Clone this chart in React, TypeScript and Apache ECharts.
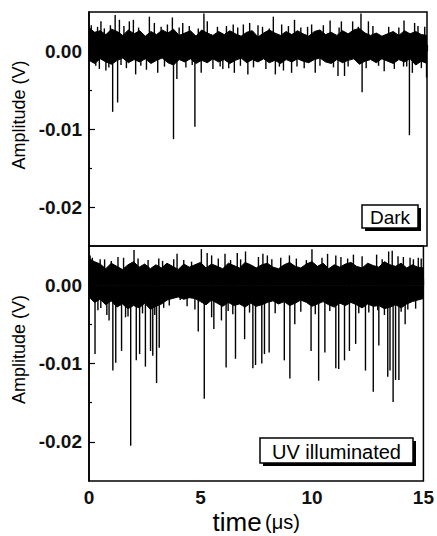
import React, { useEffect, useRef } from "react";
import * as echarts from "echarts";

const darkUpper = [
  0.0030, 0.0024, 0.0026, 0.0021, 0.0028, 0.0025, 0.0020, 0.0027, 0.0022, 0.0026,
  0.0019, 0.0025, 0.0021, 0.0027, 0.0023, 0.0028, 0.0020, 0.0023, 0.0026, 0.0019,
  0.0027, 0.0023, 0.0020, 0.0025, 0.0021, 0.0026, 0.0022, 0.0019, 0.0024, 0.0026,
  0.0018, 0.0023, 0.0027, 0.0023, 0.0020, 0.0025, 0.0021, 0.0026, 0.0022, 0.0019,
  0.0025, 0.0027, 0.0021, 0.0024, 0.0020, 0.0026, 0.0022, 0.0027, 0.0029, 0.0023,
  0.0020, 0.0023, 0.0019, 0.0022, 0.0025, 0.0020, 0.0026, 0.0022, 0.0025, 0.0021,
  0.0020,
];
const darkLower = [
  -0.0012, -0.0016, -0.0010, -0.0014, -0.0017, -0.0012, -0.0009, -0.0015, -0.0011, -0.0014,
  -0.0010, -0.0016, -0.0012, -0.0009, -0.0015, -0.0018, -0.0011, -0.0014, -0.0010, -0.0016,
  -0.0012, -0.0015, -0.0010, -0.0014, -0.0011, -0.0016, -0.0012, -0.0009, -0.0015, -0.0011,
  -0.0014, -0.0010, -0.0015, -0.0012, -0.0016, -0.0011, -0.0014, -0.0010, -0.0013, -0.0015,
  -0.0011, -0.0009, -0.0014, -0.0016, -0.0011, -0.0015, -0.0012, -0.0010, -0.0017, -0.0013,
  -0.0011, -0.0015, -0.0010, -0.0013, -0.0016, -0.0011, -0.0014, -0.0010, -0.0018, -0.0013,
  -0.0016,
];
const uvUpper = [
  0.0034, 0.0030, 0.0027, 0.0021, 0.0028, 0.0024, 0.0020, 0.0026, 0.0030, 0.0023,
  0.0027, 0.0021, 0.0026, 0.0022, 0.0028, 0.0024, 0.0020, 0.0027, 0.0023, 0.0026,
  0.0029, 0.0022, 0.0027, 0.0024, 0.0021, 0.0028, 0.0025, 0.0022, 0.0029, 0.0026,
  0.0022, 0.0026, 0.0028, 0.0023, 0.0021, 0.0026, 0.0029, 0.0024, 0.0022, 0.0027,
  0.0030, 0.0024, 0.0028, 0.0021, 0.0026, 0.0023, 0.0027, 0.0029, 0.0024, 0.0022,
  0.0028, 0.0025, 0.0023, 0.0030, 0.0026, 0.0024, 0.0028, 0.0022, 0.0026, 0.0023,
  0.0022,
];
const uvLower = [
  -0.0015, -0.0022, -0.0018, -0.0025, -0.0020, -0.0028, -0.0024, -0.0030, -0.0026, -0.0029,
  -0.0023, -0.0031, -0.0027, -0.0024, -0.0019, -0.0017, -0.0015, -0.0018, -0.0016, -0.0017,
  -0.0021, -0.0025, -0.0019, -0.0023, -0.0027, -0.0022, -0.0026, -0.0024, -0.0028, -0.0023,
  -0.0027, -0.0025, -0.0022, -0.0020, -0.0024, -0.0021, -0.0026, -0.0023, -0.0019, -0.0022,
  -0.0027, -0.0024, -0.0021, -0.0025, -0.0028, -0.0023, -0.0026, -0.0022, -0.0025, -0.0029,
  -0.0024, -0.0027, -0.0026, -0.0030, -0.0028, -0.0025, -0.0029, -0.0024, -0.0021, -0.0019,
  -0.0017,
];

// Large spikes [time µs, amplitude V]
const darkDownSpikes = [
  [0.46, -0.0023], [0.75, -0.0025], [1.05, -0.0078], [1.27, -0.0066], [2.07, -0.003],
  [3.05, -0.0028], [3.75, -0.0113], [3.9, -0.0036], [4.7, -0.0097], [4.98, -0.0028],
  [5.5, -0.0023], [5.94, -0.0023], [6.45, -0.0028], [7.05, -0.003], [8.27, -0.003],
  [8.63, -0.0025], [8.99, -0.0028], [9.23, -0.002], [10.04, -0.0028], [11.05, -0.0032],
  [11.34, -0.0032], [12.12, -0.0053], [13.1, -0.0026], [13.96, -0.002], [14.22, -0.0108],
  [14.35, -0.0028], [14.98, -0.0034],
];
const darkUpSpikes = [
  [0.53, 0.0038], [1.16, 0.0046], [1.35, 0.004], [1.79, 0.0038], [1.97, 0.004],
  [2.68, 0.0044], [2.9, 0.0036], [3.7, 0.0043], [4.16, 0.0036], [5.1, 0.0048],
  [5.25, 0.0038], [6.4, 0.0034], [6.85, 0.0034], [7.13, 0.0036], [7.5, 0.0033],
  [8.18, 0.0044], [8.55, 0.0034], [9.12, 0.004], [9.88, 0.0034], [10.7, 0.0039],
  [11.2, 0.0038], [11.7, 0.0038], [12.07, 0.0048], [12.4, 0.0038], [13.98, 0.0039],
  [14.45, 0.0036],
];
// Short hairs along the noise band edges
const darkHairs = [
  [0.1, 0.0033], [0.3, -0.0019], [0.38, 0.0031], [0.68, 0.0029], [0.88, -0.0021],
  [0.95, 0.0033], [1.42, -0.0018], [1.55, 0.0032], [1.66, -0.0022], [2.2, 0.003],
  [2.3, -0.0019], [2.55, -0.0024], [3.2, 0.0031], [3.35, -0.002], [3.48, 0.0034],
  [4.0, 0.003], [4.3, -0.0021], [4.45, 0.0032], [4.58, -0.0018], [4.85, 0.0029],
  [5.7, 0.0031], [5.82, -0.002], [6.1, 0.0032], [6.2, -0.0022], [6.6, 0.003],
  [6.72, -0.0019], [7.3, -0.0021], [7.7, 0.0031], [7.85, -0.0023], [8.0, 0.0029],
  [8.45, -0.002], [8.85, 0.0032], [9.4, 0.003], [9.55, -0.0022], [9.7, 0.0031],
  [10.25, -0.0019], [10.4, 0.0033], [10.85, -0.0021], [11.1, 0.003], [11.5, -0.002],
  [11.95, 0.0031], [12.3, -0.0022], [12.6, 0.0032], [12.85, -0.0019], [13.3, 0.0031],
  [13.55, -0.0023], [13.75, 0.003], [14.1, -0.002], [14.6, 0.0032], [14.75, -0.0022],
  [14.9, 0.0031],
];
const uvDownSpikes = [
  [0.27, -0.0088], [0.53, -0.0029], [0.9, -0.0045], [1.07, -0.0109], [1.2, -0.0099],
  [1.46, -0.0084], [1.64, -0.0041], [1.87, -0.0205], [2.12, -0.0096], [2.27, -0.0088],
  [2.53, -0.0104], [2.76, -0.0084], [2.86, -0.009], [3.03, -0.0125], [3.15, -0.008],
  [3.35, -0.0029], [4.09, -0.0019], [4.9, -0.0059], [5.17, -0.0145], [5.5, -0.0041],
  [5.6, -0.0056], [5.94, -0.0045], [6.15, -0.0105], [6.24, -0.0033], [6.57, -0.0094],
  [6.98, -0.0069], [7.35, -0.0106], [7.47, -0.0102], [7.75, -0.01], [7.87, -0.0088],
  [8.08, -0.0086], [8.76, -0.0096], [9.01, -0.0119], [9.23, -0.005], [9.96, -0.0084],
  [10.3, -0.0122], [10.58, -0.0086], [11.07, -0.0106], [11.2, -0.0107], [11.46, -0.0096],
  [11.68, -0.0084], [11.96, -0.0075], [12.4, -0.0109], [12.75, -0.0136], [13.0, -0.0077],
  [13.4, -0.0117], [13.5, -0.0109], [13.64, -0.0149], [13.75, -0.0121], [13.9, -0.0121],
  [14.18, -0.005],
];
const uvUpSpikes = [
  [0.15, 0.0035], [0.5, 0.0033], [1.3, 0.0036], [2.02, 0.0045], [3.13, 0.0034],
  [3.95, 0.004], [5.04, 0.0046], [5.3, 0.0041], [5.5, 0.0038], [6.1, 0.004],
  [6.65, 0.0041], [7.02, 0.0043], [7.8, 0.004], [8.0, 0.0038], [8.99, 0.0038],
  [10.0, 0.0046], [10.7, 0.004], [11.07, 0.0038], [11.86, 0.0039], [12.9, 0.0039],
  [13.44, 0.0043], [13.6, 0.0044], [13.86, 0.0037], [14.4, 0.0035], [14.77, 0.0035],
];
const uvHairs = [
  [0.05, 0.0038], [0.4, -0.0032], [0.7, 0.0033], [0.8, -0.0038], [1.0, 0.0031],
  [1.55, 0.0035], [1.75, -0.004], [2.2, 0.0034], [2.4, -0.0036], [2.65, 0.0032],
  [2.95, -0.0038], [3.3, 0.0031], [3.6, -0.0026], [3.8, 0.0033], [4.25, 0.0032],
  [4.4, -0.0027], [4.6, 0.003], [4.75, -0.0031], [5.8, 0.0034], [6.35, 0.0032],
  [6.45, -0.0037], [6.8, 0.0033], [7.2, -0.0035], [7.6, 0.0036], [8.2, 0.0033],
  [8.35, -0.0036], [8.6, 0.0035], [9.3, 0.0034], [9.5, -0.0034], [9.75, 0.0032],
  [10.15, -0.0037], [10.45, 0.0035], [10.8, -0.0033], [11.3, 0.0036], [11.6, 0.0034],
  [12.1, -0.0036], [12.25, 0.0037], [12.55, -0.0035], [12.95, -0.0032], [13.15, 0.0033],
  [13.25, -0.0038], [14.0, -0.0034], [14.1, 0.0036], [14.3, -0.0031], [14.55, 0.0033],
  [14.65, -0.003], [14.9, 0.0034],
];

const xTicks = { min: 0, max: 15, interval: 5 };
const yLabelValues = [-0.02, -0.01, 0];
const yMinorValues = [-0.015, -0.005];
const yRange = { min: -0.025, max: 0.005 };

const FONT = "'Liberation Sans', Arial, Helvetica, sans-serif";

const bandTime = (i: number) => i * 0.25;
const toPairs = (arr: number[]) => arr.map((v, i) => [bandTime(i), v]);

export default function App() {
  const ref = useRef<HTMLDivElement>(null);

  useEffect(() => {
    if (!ref.current) return;
    const chart = echarts.init(ref.current, null, { renderer: "svg" });

    const axisLine = { show: true, lineStyle: { color: "#000", width: 1.6 } };

    const makeX = (gridIndex: number, showLabels: boolean) => ({
      type: "value",
      gridIndex,
      min: xTicks.min,
      max: xTicks.max,
      interval: xTicks.interval,
      axisLine,
      axisTick: { show: true, inside: true, length: 6, lineStyle: { color: "#000", width: 1.2 } },
      minorTick: { show: true, splitNumber: 2, length: 3, lineStyle: { color: "#000", width: 1.2 } },
      splitLine: { show: false },
      minorSplitLine: { show: false },
      axisLabel: {
        show: showLabels,
        fontSize: 19,
        fontWeight: "bold",
        color: "#111",
        fontFamily: FONT,
        margin: 7,
      },
      ...(showLabels
        ? {
            name: "{t|time} {u|(μs)}",
            nameLocation: "middle",
            nameGap: 28,
            nameTextStyle: {
              rich: {
                t: { fontSize: 26, fontFamily: FONT, color: "#000" },
                u: { fontSize: 20, fontFamily: FONT, color: "#000" },
              },
            },
          }
        : {}),
    });

    const makeYMain = (gridIndex: number) => ({
      type: "value",
      gridIndex,
      position: "left",
      min: yRange.min,
      max: yRange.max,
      axisLine,
      axisTick: {
        show: true,
        inside: true,
        length: 6,
        customValues: yLabelValues,
        lineStyle: { color: "#000", width: 1.2 },
      },
      axisLabel: {
        customValues: yLabelValues,
        formatter: (v: number) => (Math.abs(v) < 1e-9 ? 0 : v).toFixed(2),
        fontSize: 19,
        fontWeight: "bold",
        color: "#111",
        fontFamily: FONT,
        margin: 7,
      },
      splitLine: { show: false },
      name: "Amplitude (V)",
      nameLocation: "middle",
      nameRotate: 90,
      nameGap: 58,
      nameTextStyle: { fontSize: 18, color: "#000", fontFamily: FONT, padding: [0, 0, 0, 28] },
    });

    const makeYMinor = (gridIndex: number) => ({
      type: "value",
      gridIndex,
      position: "left",
      min: yRange.min,
      max: yRange.max,
      axisLine: { show: false },
      axisTick: {
        show: true,
        inside: true,
        length: 3,
        customValues: yMinorValues,
        lineStyle: { color: "#000", width: 1.2 },
      },
      axisLabel: { show: false },
      splitLine: { show: false },
    });

    const band = (data: number[], xi: number, yi: number) => ({
      type: "line",
      xAxisIndex: xi,
      yAxisIndex: yi,
      data: toPairs(data),
      symbol: "none",
      lineStyle: { color: "#000", width: 1 },
      areaStyle: { color: "#000", opacity: 1 },
      silent: true,
      z: 2,
    });

    const spikes = (lists: number[][][], xi: number, yi: number) => ({
      type: "bar",
      xAxisIndex: xi,
      yAxisIndex: yi,
      data: lists.flat(),
      barWidth: 1.4,
      itemStyle: { color: "#000" },
      silent: true,
      z: 3,
    });

    const boxText = (
      x: number,
      y: number,
      w: number,
      h: number,
      text: string,
      fontSize: number
    ) => ({
      type: "group",
      z: 100,
      children: [
        { type: "rect", shape: { x: x + 3, y: y + 3, width: w, height: h }, style: { fill: "#000" }, z: 100 },
        {
          type: "rect",
          shape: { x, y, width: w, height: h },
          style: { fill: "#fff", stroke: "#000", lineWidth: 1.5 },
          z: 101,
        },
        {
          type: "text",
          x: x + w / 2,
          y: y + h / 2 + 1,
          style: {
            text,
            fontSize,
            fontFamily: FONT,
            fill: "#000",
            align: "center",
            verticalAlign: "middle",
          },
          z: 102,
        },
      ],
    });

    const option = {
      animation: false,
      backgroundColor: "#fff",
      grid: [
        { left: 89, top: 12, width: 338, height: 234, show: true, borderColor: "#000", borderWidth: 1.5, backgroundColor: "transparent" },
        { left: 89, top: 246, width: 338, height: 235, show: true, borderColor: "#000", borderWidth: 1.5, backgroundColor: "transparent" },
      ],
      xAxis: [makeX(0, false), makeX(1, true)],
      yAxis: [makeYMain(0), makeYMinor(0), makeYMain(1), makeYMinor(1)],
      series: [
        band(darkUpper, 0, 0),
        band(darkLower, 0, 0),
        spikes([darkDownSpikes, darkUpSpikes, darkHairs], 0, 0),
        band(uvUpper, 1, 2),
        band(uvLower, 1, 2),
        spikes([uvDownSpikes, uvUpSpikes, uvHairs], 1, 2),
      ],
      graphic: [boxText(362, 205, 56, 23, "Dark", 19), boxText(260, 438, 153, 25, "UV illuminated", 20)],
    };

    chart.setOption(option as any);
    return () => chart.dispose();
  }, []);

  return (
    <div
      ref={ref}
      style={{ position: "fixed", left: 0, top: 0, width: 437, height: 536, background: "#fff" }}
    />
  );
}
